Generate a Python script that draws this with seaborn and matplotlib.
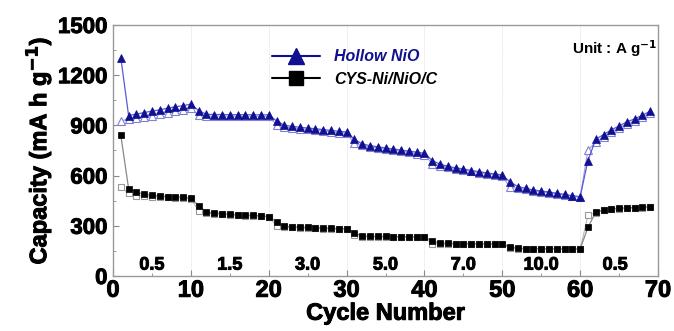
import numpy as np
import pandas as pd
import matplotlib
matplotlib.use("Agg")
import matplotlib.pyplot as plt
import matplotlib.patheffects as pe
from matplotlib.lines import Line2D
import seaborn as sns

cycles = list(range(1, 70))

hollow_dis = [1304, 959, 967, 977, 985, 993, 1003, 1011, 1018, 1027,
              988, 966, 965, 965, 964, 964, 964, 963, 963, 963,
              927, 901, 894, 889, 884, 880, 875, 870, 865, 860,
              817, 789, 779, 772, 765, 759, 752, 746, 740, 733,
              690, 668, 656, 646, 640, 630, 624, 616, 610, 604,
              562, 534, 524, 514, 508, 502, 494, 488, 480, 474,
              690, 817, 845, 873, 897, 921, 939, 961, 985]

hollow_cha = [927, 937, 942, 950, 958, 967, 976, 985, 993, 1003,
              960, 955, 955, 955, 955, 955, 955, 954, 954, 954,
              905, 890, 885, 880, 876, 872, 867, 862, 857, 852,
              793, 780, 772, 765, 759, 752, 745, 739, 732, 726,
              670, 660, 650, 641, 634, 625, 618, 610, 604, 597,
              530, 525, 517, 509, 503, 497, 490, 484, 477, 470,
              753, 799, 830, 860, 885, 908, 928, 950, 972]

cys_dis = [841, 522, 500, 490, 482, 478, 475, 473, 470, 464,
           420, 381, 377, 372, 369, 366, 364, 362, 360, 355,
           325, 297, 294, 292, 290, 288, 286, 285, 283, 282,
           259, 238, 237, 236, 236, 235, 235, 234, 234, 233,
           209, 196, 195, 194, 194, 193, 193, 192, 192, 191,
           175, 165, 164, 164, 163, 163, 163, 162, 162, 162,
           291, 381, 395, 401, 405, 407, 409, 411, 413]

cys_cha = [534, 494, 480, 478, 474, 472, 470, 468, 466, 462,
           390, 375, 372, 368, 365, 362, 360, 358, 356, 352,
           301, 292, 290, 288, 286, 285, 283, 282, 281, 280,
           245, 235, 234, 234, 233, 233, 232, 232, 231, 231,
           191, 192, 191, 191, 190, 190, 190, 189, 189, 189,
           168, 163, 162, 162, 161, 161, 161, 160, 160, 160,
           363, 378, 392, 398, 403, 405, 407, 409, 411]

rate_labels = ["0.5", "1.5", "3.0", "5.0", "7.0", "10.0", "0.5"]
rate_pos = [5, 15, 25, 35, 45, 55, 64.5]

sns.set_style("ticks")
plt.rcParams['font.family'] = ['Liberation Sans', 'DejaVu Sans']
plt.rcParams['font.weight'] = 'bold'
plt.rcParams['mathtext.default'] = 'regular'
plt.rcParams['text.color'] = 'black'
plt.rcParams['axes.labelcolor'] = 'black'
plt.rcParams['xtick.labelcolor'] = 'black'
plt.rcParams['ytick.labelcolor'] = 'black'

heavy = [pe.withStroke(linewidth=0.7, foreground='black')]

fig = plt.figure(figsize=(6.74, 3.31), dpi=100)
ax = fig.add_axes([0.1677, 0.1662, 0.8086, 0.7583])

df = pd.DataFrame({"cycle": cycles, "hd": hollow_dis, "hc": hollow_cha,
                   "cd": cys_dis, "cc": cys_cha})

navy = "#101090"
# open (charge) series first
sns.lineplot(data=df, x="cycle", y="hc", ax=ax, color="#9a9ae0", lw=0.8,
             marker="^", markersize=5.5, markerfacecolor="white",
             markeredgecolor="#8080d8", markeredgewidth=0.8)
sns.lineplot(data=df, x="cycle", y="cc", ax=ax, color="#bbbbbb", lw=0.8,
             marker="s", markersize=4.2, markerfacecolor="white",
             markeredgecolor="#999999", markeredgewidth=0.8)
# filled (discharge) series
sns.lineplot(data=df, x="cycle", y="hd", ax=ax, color="#5a5ad8", lw=0.9,
             marker="^", markersize=5.5, markerfacecolor=navy,
             markeredgecolor=navy, markeredgewidth=0.5)
sns.lineplot(data=df, x="cycle", y="cd", ax=ax, color="#888888", lw=0.9,
             marker="s", markersize=4.2, markerfacecolor="black",
             markeredgecolor="black", markeredgewidth=0.5)

ax.set_xlim(0, 70)
ax.set_ylim(0, 1500)
ax.set_xticks(range(0, 71, 10))
ax.set_xticks(range(5, 70, 10), minor=True)
ax.set_yticks(range(0, 1501, 300))
ax.set_yticks(range(150, 1500, 300), minor=True)
for x in range(10, 70, 10):
    ax.axvline(x, color="#dddddd", lw=0.6, ls=(0, (1, 1)), zorder=0)

ax.tick_params(axis='both', which='both', direction='in', color='#888888')
ax.tick_params(axis='both', which='major', length=4, width=0.8)
ax.tick_params(axis='both', which='minor', length=2.5, width=0.6)
ax.tick_params(axis='x', labelsize=17, pad=2)
ax.tick_params(axis='y', labelsize=16, pad=4)
for lab in ax.get_xticklabels() + ax.get_yticklabels():
    lab.set_fontweight('bold')
    lab.set_path_effects(heavy)
for sp in ax.spines.values():
    sp.set_visible(True)
    sp.set_color('#999999')
    sp.set_linewidth(1.0)

xl = ax.set_xlabel("Cycle Number", fontsize=17, fontweight='bold', labelpad=0)
yl = ax.set_ylabel("Capacity (mA h g$^{\\mathbf{-1}}$)", fontsize=17, fontweight='bold', labelpad=3)
xl.set_path_effects(heavy)
yl.set_path_effects(heavy)

for lab, pos in zip(rate_labels, rate_pos):
    ax.text(pos, 65, lab, ha='center', va='center', fontsize=13, fontweight='bold',
            path_effects=heavy)

ax.text(58.9, 1360, "Unit : A g$^{\\mathbf{-1}}$", ha='left', va='center',
        fontsize=11, fontweight='bold')

handles = [Line2D([], [], color=navy, lw=1.5, marker='^', markersize=11,
                  markerfacecolor=navy, markeredgecolor=navy),
           Line2D([], [], color='black', lw=1.5, marker='s', markersize=9.5,
                  markerfacecolor='black', markeredgecolor='black')]
leg = ax.legend(handles, ["Hollow NiO", "CYS-Ni/NiO/C"], loc='upper left',
                bbox_to_anchor=(0.265, 0.96), frameon=False,
                prop={'size': 11.5, 'weight': 'bold', 'style': 'italic'},
                handlelength=3.0, labelspacing=0.45, handletextpad=0.9)
leg.get_texts()[0].set_color(navy)

fig.savefig("out.png", dpi=100)
